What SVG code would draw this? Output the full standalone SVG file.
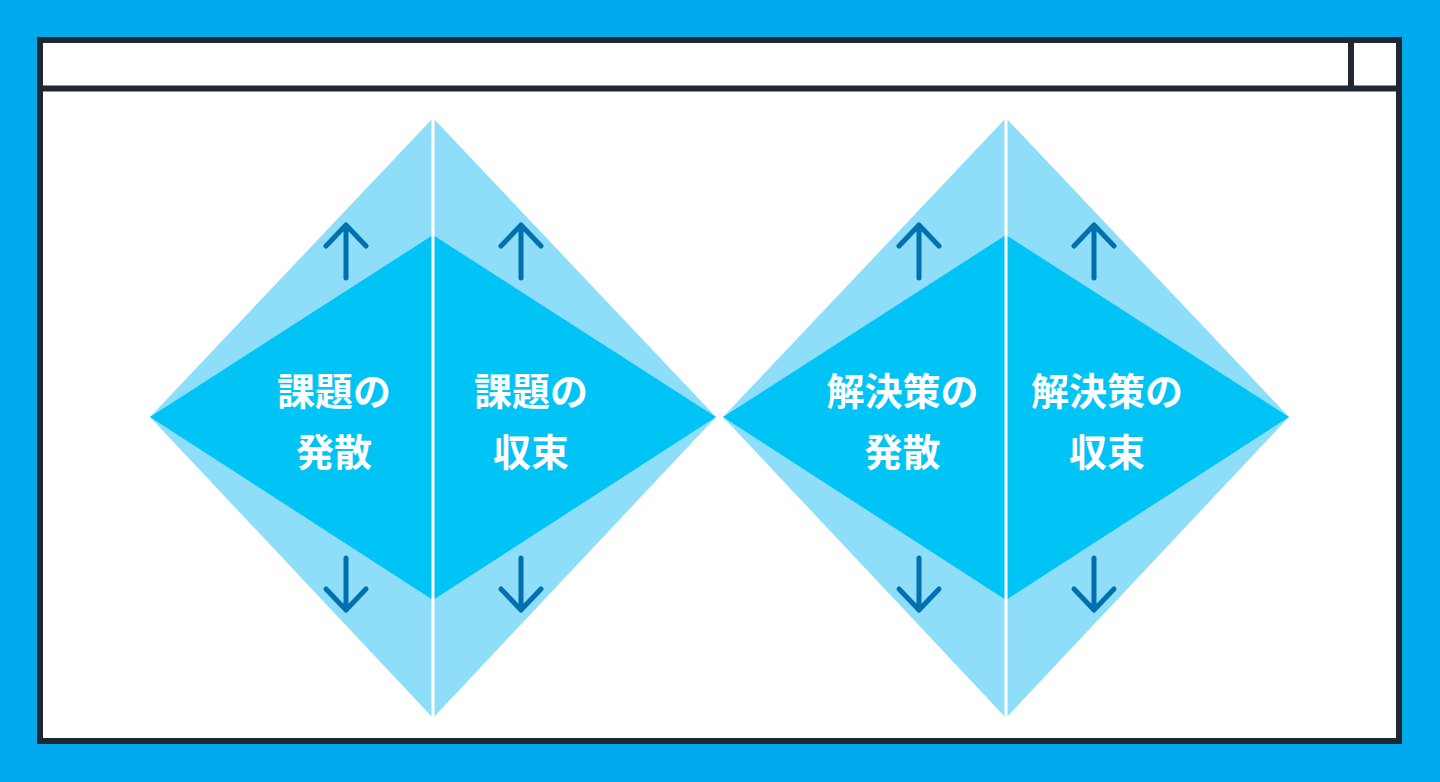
<svg xmlns="http://www.w3.org/2000/svg" width="1440" height="782" viewBox="0 0 1440 782">
  <defs>
    <style>
      .outer { fill: #8EDEFA; }
      .inner { fill: #00C4F6; }
      .split { stroke: #FFFFFF; stroke-width: 3; }
      .arrow { fill: none; stroke: #0071AE; stroke-width: 5; stroke-linecap: round; stroke-linejoin: round; }
      .label { fill: #FFFFFF; font-family: "Noto Sans CJK JP", "Noto Sans CJK SC", sans-serif; font-weight: 700; font-size: 38px; text-anchor: middle; }
      .frame { fill: #FFFFFF; stroke: #1F2733; stroke-width: 6; }
      .bar { stroke: #1F2733; stroke-width: 6; fill: none; }
    </style>
    <g id="halfL">
      <polygon class="outer" points="0,299 283,0 283,600"/>
      <polygon class="inner" points="0,299 283,117 283,482"/>
    </g>
    <path id="up" class="arrow" d="M0,53 V0 M-20,21 L0,0 L20,21"/>
    <path id="down" class="arrow" d="M0,0 V52 M-20,31 L0,52 L20,31"/>
  </defs>

  <rect x="0" y="0" width="1440" height="782" fill="#00A8EC"/>

  <g id="window">
    <rect class="frame" x="40" y="40" width="1359" height="701"/>
    <line class="bar" x1="40" y1="88.5" x2="1399" y2="88.5"/>
    <line class="bar" x1="1351" y1="40" x2="1351" y2="88.5"/>
  </g>

  <g id="diamond-problem">
    <use href="#halfL" transform="translate(150,118)"/>
    <use href="#halfL" transform="translate(716,118) scale(-1,1)"/>
    <line class="split" x1="433" y1="117" x2="433" y2="719"/>
  </g>

  <g id="diamond-solution">
    <use href="#halfL" transform="translate(723,118)"/>
    <use href="#halfL" transform="translate(1289,118) scale(-1,1)"/>
    <line class="split" x1="1006" y1="117" x2="1006" y2="719"/>
  </g>

  <g id="arrows">
    <use href="#up" transform="translate(346,225)"/>
    <use href="#down" transform="translate(346,558)"/>
    <use href="#up" transform="translate(521,225)"/>
    <use href="#down" transform="translate(521,558)"/>
    <use href="#up" transform="translate(919,225)"/>
    <use href="#down" transform="translate(919,558)"/>
    <use href="#up" transform="translate(1094,225)"/>
    <use href="#down" transform="translate(1094,558)"/>
  </g>

  <g id="node-problem-diverge">
    <text class="label" x="334" y="405">課題の</text>
    <text class="label" x="334" y="466">発散</text>
  </g>
  <g id="node-problem-converge">
    <text class="label" x="531" y="405">課題の</text>
    <text class="label" x="531" y="466">収束</text>
  </g>
  <g id="node-solution-diverge">
    <text class="label" x="902.5" y="405">解決策の</text>
    <text class="label" x="902.5" y="466">発散</text>
  </g>
  <g id="node-solution-converge">
    <text class="label" x="1107" y="405">解決策の</text>
    <text class="label" x="1107" y="466">収束</text>
  </g>
</svg>
